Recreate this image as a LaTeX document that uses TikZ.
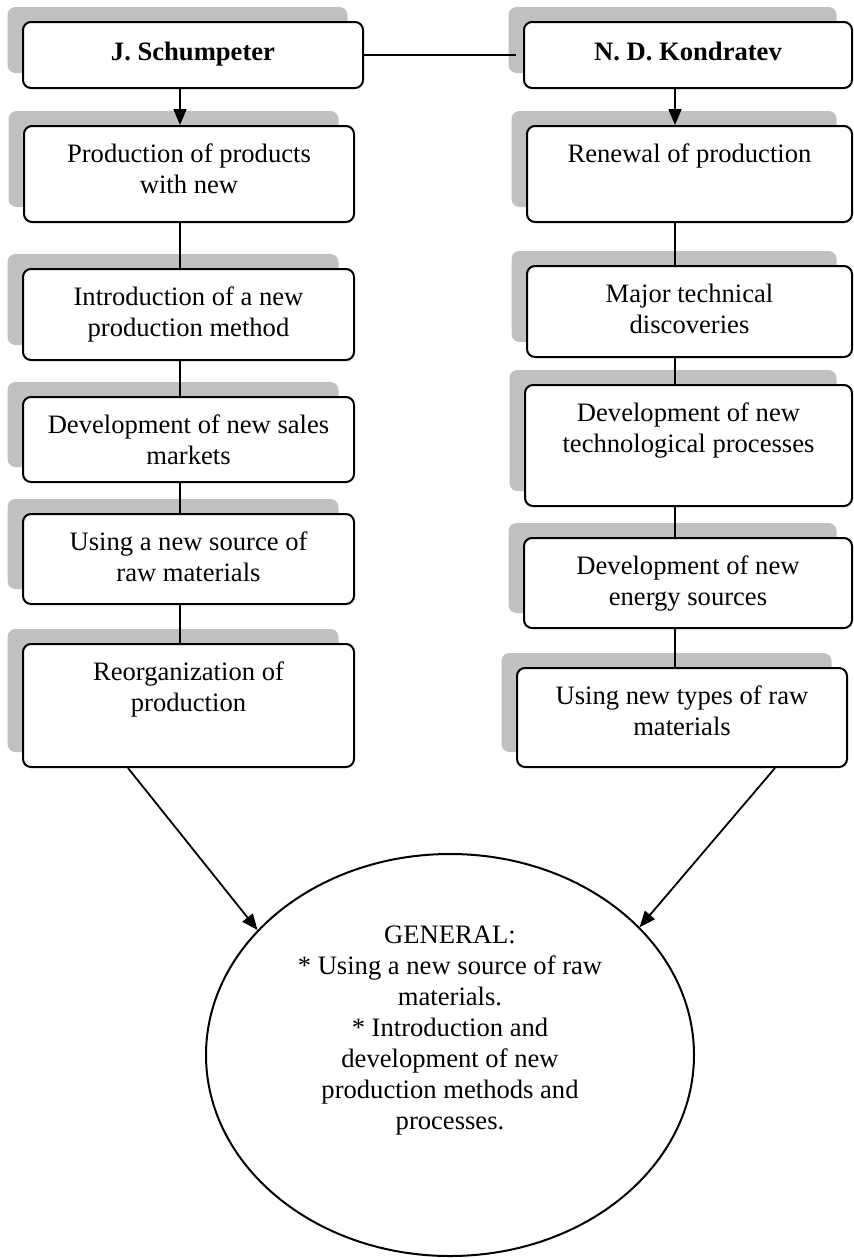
\documentclass[tikz,border=0pt]{standalone}
\usepackage{fontspec}
\setmainfont{Liberation Serif}
\usetikzlibrary{arrows.meta,shapes.geometric,shadows}
\definecolor{shadowgray}{RGB}{192,192,192}
\tikzset{
  txtfont/.style={font=\fontsize{13.3pt}{15.5pt}\selectfont},
  box/.style={draw, line width=1pt, rounded corners=4pt, fill=white, inner sep=0pt, txtfont,
    general shadow={fill=shadowgray, shadow xshift=-7.75pt, shadow yshift=7.5pt}},
  hdr/.style={box, font=\fontsize{13.3pt}{15.5pt}\selectfont\bfseries, text height=9pt, text depth=3pt},
  conn/.style={line width=0.9pt},
  arr/.style={conn, -{Triangle[length=8pt,width=6.5pt]}},
}
\newcommand\mybox[6]{%
  \pgfmathsetmacro\bw{(#4-#2)*0.5}%
  \pgfmathsetmacro\bh{(#5-#3)*0.5}%
  \node[box] (#1) at ({(#2+#4)/2},{(#3+#5)/2}) {\parbox[c][\bh pt][t]{\bw pt}{\centering\rule{0pt}{18.25pt}#6}};%
}
\begin{document}
\begin{tikzpicture}[x=0.5pt,y=-0.5pt]
\useasboundingbox (0,0) rectangle (853,1258);
% headers
\node[hdr, minimum width=170pt, minimum height=33pt] (s1) at (193,55) {J. Schumpeter};
\node[hdr, minimum width=164pt, minimum height=33pt] (k1) at (688,55) {N. D. Kondratev};
% left column
\mybox{s2}{24}{126}{354}{222}{Production of products\\with new}
\mybox{s3}{23}{269}{354}{360}{Introduction of a new\\production method}
\mybox{s4}{23}{397}{354}{482}{Development of new sales\\markets}
\mybox{s5}{23}{514}{354}{604}{Using a new source of\\raw materials}
\mybox{s6}{23}{644}{354}{767}{Reorganization of\\production}
% right column
\mybox{k2}{527}{126}{852}{222}{Renewal of production}
\mybox{k3}{527}{266}{852}{357}{Major technical\\discoveries}
\mybox{k4}{525}{385}{852}{506}{Development of new\\technological processes}
\mybox{k5}{524}{538}{852}{628}{Development of new\\energy sources}
\mybox{k6}{517}{668}{847}{767}{Using new types of raw\\materials}
% ellipse
\node[draw, ellipse, line width=1pt, minimum width=244pt, minimum height=201pt, inner sep=0pt] (gen) at (450,1055) {};
\node[txtfont, align=center] (gent) at (450,1031) {GENERAL:\\* Using a new source of raw\\materials.\\* Introduction and\\development of new\\production methods and\\processes.};
% connector columns
\coordinate (lx) at (180,0);
\coordinate (rx) at (675,0);
\coordinate (la) at (128,0);
\coordinate (ra) at (775,0);
\draw[conn] (s1.east) -- ([xshift=-3.5pt]k1.west);
\draw[arr] (s1.south -| lx) -- (s2.north -| lx);
\draw[conn] (s2.south -| lx) -- (s3.north -| lx);
\draw[conn] (s3.south -| lx) -- (s4.north -| lx);
\draw[conn] (s4.south -| lx) -- (s5.north -| lx);
\draw[conn] (s5.south -| lx) -- (s6.north -| lx);
\draw[arr] (k1.south -| rx) -- (k2.north -| rx);
\draw[conn] (k2.south -| rx) -- (k3.north -| rx);
\draw[conn] (k3.south -| rx) -- (k4.north -| rx);
\draw[conn] (k4.south -| rx) -- (k5.north -| rx);
\draw[conn] (k5.south -| rx) -- (k6.north -| rx);
\draw[arr] (s6.south -| la) -- (gen.147);
\draw[arr] (k6.south -| ra) -- (gen.34);
\end{tikzpicture}
\end{document}
